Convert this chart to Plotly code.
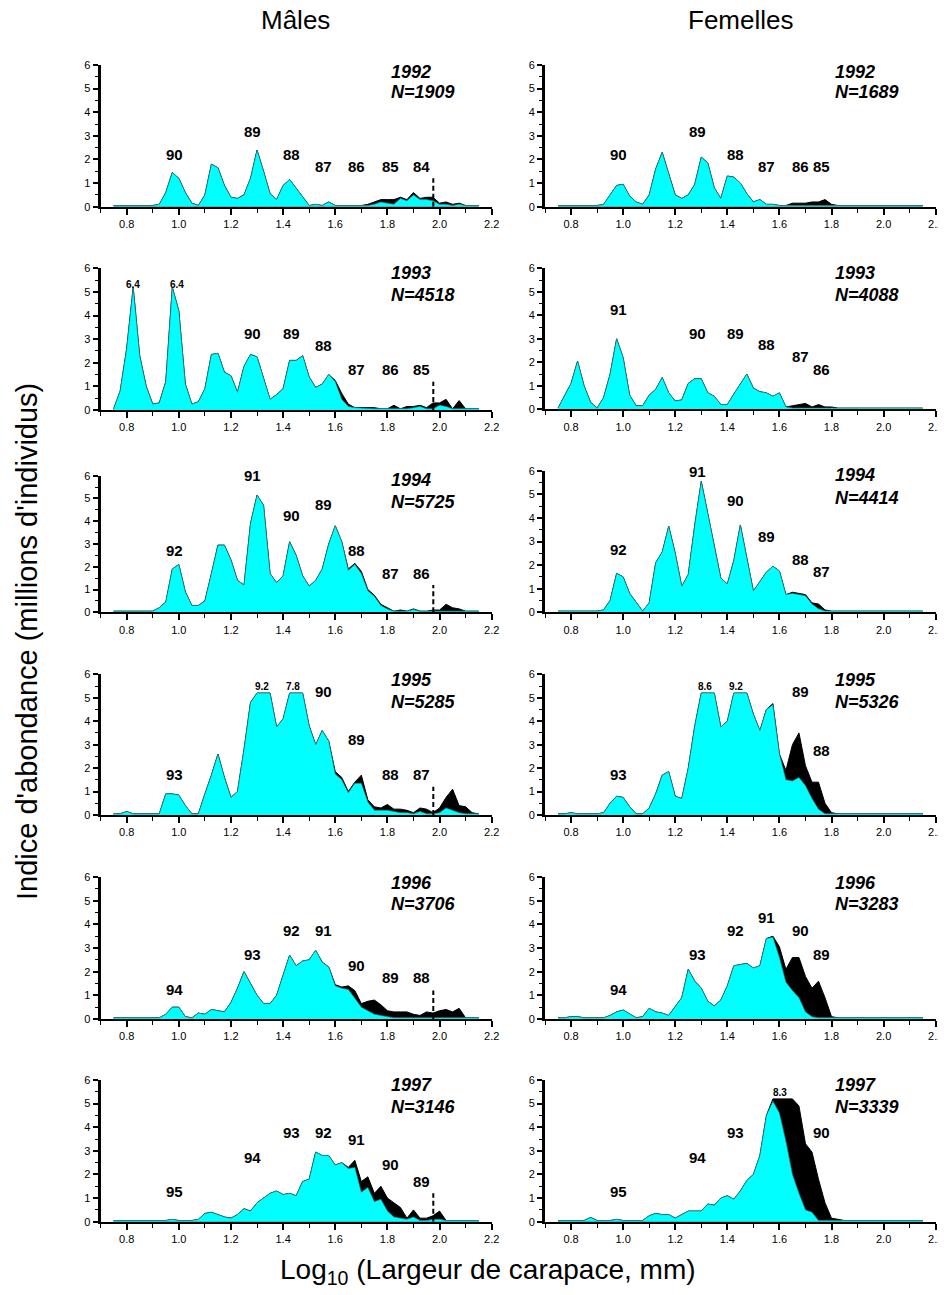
import plotly.graph_objects as go

# ---------------- data ----------------
LOG_CW = [0.750, 0.775, 0.800, 0.825, 0.850, 0.875, 0.900, 0.925, 0.950, 0.975,
          1.000, 1.025, 1.050, 1.075, 1.100, 1.125, 1.150, 1.175, 1.200, 1.225,
          1.250, 1.275, 1.300, 1.325, 1.350, 1.375, 1.400, 1.425, 1.450, 1.475,
          1.500, 1.525, 1.550, 1.575, 1.600, 1.625, 1.650, 1.675, 1.700, 1.725,
          1.750, 1.775, 1.800, 1.825, 1.850, 1.875, 1.900, 1.925, 1.950, 1.975,
          2.000, 2.025, 2.050, 2.075, 2.100, 2.125, 2.150]

M1992_TOTAL = [0.05,0.05,0.05,0.05,0.05,0.05,0.05,0.1,0.6,1.45,
               1.2,0.6,0.15,0.05,0.5,1.8,1.65,0.9,0.4,0.35,
               0.5,1.2,2.4,1.5,0.55,0.3,0.9,1.15,0.8,0.4,
               0.05,0.1,0.05,0.2,0.05,0.05,0.05,0.05,0.05,0.1,
               0.2,0.3,0.3,0.3,0.4,0.3,0.6,0.35,0.4,0.4,
               0.15,0.2,0.1,0.15,0.05,0.05,0.05]
M1992_IMM = [0.05,0.05,0.05,0.05,0.05,0.05,0.05,0.1,0.6,1.45,
             1.2,0.6,0.15,0.05,0.5,1.8,1.65,0.9,0.4,0.35,
             0.5,1.2,2.4,1.5,0.55,0.3,0.9,1.15,0.8,0.4,
             0.05,0.1,0.05,0.2,0.05,0.05,0.05,0.05,0.05,0.05,
             0.1,0.2,0.15,0.1,0.35,0.25,0.5,0.3,0.3,0.25,
             0.1,0.1,0.05,0.1,0.05,0.05,0.05]

F1992_TOTAL = [0.05,0.05,0.05,0.05,0.05,0.05,0.05,0.1,0.5,0.9,
               0.95,0.45,0.2,0.1,0.5,1.6,2.3,1.4,0.5,0.35,
               0.5,0.95,2.1,1.85,0.8,0.35,1.3,1.25,1.0,0.55,
               0.2,0.3,0.1,0.1,0.05,0.05,0.15,0.15,0.15,0.2,
               0.2,0.3,0.1,0.05,0.05,0.05,0.05,0.05,0.05,0.05,
               0.05,0.05,0.05,0.05,0.05,0.05,0.05]
F1992_IMM = [0.05,0.05,0.05,0.05,0.05,0.05,0.05,0.1,0.5,0.9,
             0.95,0.45,0.2,0.1,0.5,1.6,2.3,1.4,0.5,0.35,
             0.5,0.95,2.1,1.85,0.8,0.35,1.3,1.25,1.0,0.55,
             0.2,0.3,0.1,0.1,0.05,0.05,0.05,0.05,0.05,0.05,
             0.05,0.05,0.05,0.05,0.05,0.05,0.05,0.05,0.05,0.05,
             0.05,0.05,0.05,0.05,0.05,0.05,0.05]

M1993_TOTAL = [0.05,0.8,2.6,5.2,2.3,1.0,0.25,0.3,1.2,5.2,
               4.2,1.1,0.25,0.35,0.9,2.35,2.4,1.6,1.45,0.75,
               1.85,2.35,2.25,1.4,0.45,0.65,0.9,2.1,2.1,2.3,
               1.4,0.95,1.1,1.5,1.25,0.7,0.25,0.1,0.1,0.1,
               0.1,0.05,0.05,0.2,0.05,0.15,0.15,0.2,0.1,0.3,
               0.3,0.45,0.05,0.4,0.05,0.05,0.05]
M1993_IMM = [0.05,0.8,2.6,5.2,2.3,1.0,0.25,0.3,1.2,5.2,
             4.2,1.1,0.25,0.35,0.9,2.35,2.4,1.6,1.45,0.75,
             1.85,2.35,2.25,1.4,0.45,0.65,0.9,2.1,2.1,2.3,
             1.4,0.95,1.1,1.5,1.2,0.45,0.15,0.1,0.08,0.05,
             0.05,0.05,0.05,0.05,0.05,0.05,0.1,0.15,0.05,0.05,
             0.2,0.15,0.05,0.05,0.05,0.05,0.05]

F1993_TOTAL = [0.05,0.6,1.1,2.05,1.0,0.3,0.05,0.5,1.5,3.0,
               2.2,0.6,0.15,0.15,0.6,0.85,1.35,0.7,0.35,0.4,
               1.1,1.3,1.3,0.7,0.55,0.2,0.2,0.65,1.1,1.5,
               0.9,0.75,0.7,0.55,0.7,0.1,0.15,0.2,0.25,0.1,
               0.2,0.1,0.1,0.05,0.05,0.05,0.05,0.05,0.05,0.05,
               0.05,0.05,0.05,0.05,0.05,0.05,0.05]
F1993_IMM = [0.05,0.6,1.1,2.05,1.0,0.3,0.05,0.5,1.5,3.0,
             2.2,0.6,0.15,0.15,0.6,0.85,1.35,0.7,0.35,0.4,
             1.1,1.3,1.3,0.7,0.55,0.2,0.2,0.65,1.1,1.5,
             0.9,0.75,0.7,0.55,0.7,0.1,0.05,0.05,0.05,0.05,
             0.05,0.05,0.05,0.05,0.05,0.05,0.05,0.05,0.05,0.05,
             0.05,0.05,0.05,0.05,0.05,0.05,0.05]

M1994_TOTAL = [0.05,0.05,0.05,0.05,0.05,0.05,0.05,0.2,0.45,1.9,
               2.1,0.9,0.3,0.3,0.5,1.7,2.95,2.95,2.3,1.4,
               1.2,3.9,5.15,4.7,1.7,1.3,1.6,3.1,2.5,1.6,
               1.15,1.4,1.9,3.0,3.8,3.1,1.9,2.15,1.8,1.0,
               0.75,0.35,0.2,0.05,0.1,0.05,0.15,0.05,0.05,0.1,
               0.1,0.35,0.2,0.15,0.05,0.05,0.05]
M1994_IMM = [0.05,0.05,0.05,0.05,0.05,0.05,0.05,0.2,0.45,1.9,
             2.1,0.9,0.3,0.3,0.5,1.7,2.95,2.95,2.3,1.4,
             1.2,3.9,5.15,4.7,1.7,1.3,1.6,3.1,2.5,1.6,
             1.15,1.4,1.9,3.0,3.8,3.1,1.85,2.1,1.7,0.95,
             0.7,0.3,0.15,0.05,0.05,0.05,0.12,0.05,0.05,0.05,
             0.05,0.05,0.05,0.05,0.05,0.05,0.05]

F1994_TOTAL = [0.05,0.05,0.05,0.05,0.05,0.05,0.05,0.1,0.5,1.65,
               1.5,0.8,0.4,0.05,0.4,2.1,2.55,3.65,2.5,1.1,
               1.6,3.7,5.55,4.2,2.7,1.45,1.2,2.2,3.7,2.3,
               0.9,1.3,1.7,1.95,1.75,0.75,0.85,0.8,0.75,0.4,
               0.35,0.1,0.05,0.05,0.05,0.05,0.05,0.05,0.05,0.05,
               0.05,0.05,0.05,0.05,0.05,0.05,0.05]
F1994_IMM = [0.05,0.05,0.05,0.05,0.05,0.05,0.05,0.1,0.5,1.65,
             1.5,0.8,0.4,0.05,0.4,2.1,2.55,3.65,2.5,1.1,
             1.6,3.7,5.55,4.2,2.7,1.45,1.2,2.2,3.7,2.3,
             0.9,1.3,1.7,1.95,1.75,0.75,0.8,0.75,0.7,0.35,
             0.15,0.05,0.05,0.05,0.05,0.05,0.05,0.05,0.05,0.05,
             0.05,0.05,0.05,0.05,0.05,0.05,0.05]

M1995_TOTAL = [0.05,0.05,0.15,0.05,0.05,0.05,0.05,0.05,0.9,0.9,
               0.85,0.4,0.05,0.05,0.9,1.7,2.6,1.6,0.75,1.0,
               2.8,4.8,5.2,5.2,5.2,3.75,4.1,5.2,5.2,5.2,
               3.8,3.0,3.6,3.15,1.85,1.6,1.0,1.4,1.7,0.65,
               0.35,0.3,0.45,0.25,0.25,0.2,0.1,0.3,0.25,0.1,
               0.3,0.75,1.1,0.4,0.35,0.1,0.05]
M1995_IMM = [0.05,0.05,0.15,0.05,0.05,0.05,0.05,0.05,0.9,0.9,
             0.85,0.4,0.05,0.05,0.9,1.7,2.6,1.6,0.75,1.0,
             2.8,4.8,5.2,5.2,5.2,3.75,4.1,5.2,5.2,5.2,
             3.8,3.0,3.6,3.15,1.75,1.5,0.95,1.35,1.35,0.55,
             0.2,0.2,0.2,0.15,0.1,0.1,0.05,0.15,0.05,0.05,
             0.1,0.3,0.2,0.1,0.05,0.05,0.05]

F1995_TOTAL = [0.05,0.05,0.1,0.05,0.05,0.05,0.05,0.1,0.5,0.8,
               0.75,0.35,0.05,0.05,0.3,0.9,1.7,1.85,0.8,0.7,
               2.0,3.8,5.2,5.2,5.2,3.75,4.0,5.2,5.2,5.2,
               4.3,3.6,4.5,4.75,2.6,1.9,3.0,3.5,2.1,1.4,
               1.4,0.5,0.1,0.05,0.05,0.05,0.05,0.05,0.05,0.05,
               0.05,0.05,0.05,0.05,0.05,0.05,0.05]
F1995_IMM = [0.05,0.05,0.1,0.05,0.05,0.05,0.05,0.1,0.5,0.8,
             0.75,0.35,0.05,0.05,0.3,0.9,1.7,1.85,0.8,0.7,
             2.0,3.8,5.2,5.2,5.2,3.75,4.0,5.2,5.2,5.2,
             4.3,3.6,4.5,4.7,2.6,1.5,1.45,1.6,1.25,0.7,
             0.25,0.05,0.05,0.05,0.05,0.05,0.05,0.05,0.05,0.05,
             0.05,0.05,0.05,0.05,0.05,0.05,0.05]

M1996_TOTAL = [0.05,0.05,0.05,0.05,0.05,0.05,0.05,0.05,0.2,0.5,
               0.5,0.1,0.05,0.25,0.2,0.4,0.35,0.3,0.7,1.3,
               2.0,1.5,1.0,0.65,0.65,1.0,1.9,2.7,2.25,2.45,
               2.5,2.9,2.4,2.2,1.45,1.35,1.4,1.2,0.65,0.75,
               0.8,0.6,0.35,0.3,0.3,0.3,0.2,0.15,0.3,0.25,
               0.35,0.4,0.3,0.45,0.05,0.05,0.05]
M1996_IMM = [0.05,0.05,0.05,0.05,0.05,0.05,0.05,0.05,0.2,0.5,
             0.5,0.1,0.05,0.25,0.2,0.4,0.35,0.3,0.7,1.3,
             2.0,1.5,1.0,0.65,0.65,1.0,1.9,2.7,2.25,2.45,
             2.5,2.9,2.4,2.2,1.4,1.3,1.25,0.9,0.5,0.35,
             0.2,0.15,0.1,0.05,0.05,0.05,0.05,0.05,0.05,0.05,
             0.05,0.05,0.05,0.05,0.05,0.05,0.05]

F1996_TOTAL = [0.05,0.05,0.1,0.1,0.05,0.05,0.05,0.05,0.15,0.3,
               0.38,0.2,0.05,0.1,0.45,0.3,0.25,0.15,0.5,0.9,
               2.1,1.6,1.3,0.75,0.55,0.8,1.4,2.25,2.3,2.35,
               2.15,2.25,3.4,3.5,3.05,2.1,2.6,2.6,1.8,1.3,
               1.6,0.9,0.1,0.05,0.05,0.05,0.05,0.05,0.05,0.05,
               0.05,0.05,0.05,0.05,0.05,0.05,0.05]
F1996_IMM = [0.05,0.05,0.1,0.1,0.05,0.05,0.05,0.05,0.15,0.3,
             0.38,0.2,0.05,0.1,0.45,0.3,0.25,0.15,0.5,0.9,
             2.1,1.6,1.3,0.75,0.55,0.8,1.4,2.25,2.3,2.35,
             2.15,2.25,3.4,3.45,2.6,1.55,1.2,0.9,0.3,0.1,
             0.05,0.05,0.05,0.05,0.05,0.05,0.05,0.05,0.05,0.05,
             0.05,0.05,0.05,0.05,0.05,0.05,0.05]

M1997_TOTAL = [0.05,0.05,0.05,0.08,0.05,0.05,0.05,0.05,0.05,0.1,
               0.05,0.05,0.05,0.1,0.35,0.4,0.3,0.2,0.15,0.3,
               0.55,0.45,0.8,1.0,1.2,1.3,1.15,1.2,1.1,1.7,
               1.8,2.95,2.8,2.8,2.4,2.5,2.3,2.6,1.7,1.9,
               1.2,1.5,1.0,0.8,0.6,0.15,0.5,0.15,0.15,0.25,
               0.45,0.05,0.05,0.05,0.08,0.05,0.05]
M1997_IMM = [0.05,0.05,0.05,0.08,0.05,0.05,0.05,0.05,0.05,0.1,
             0.05,0.05,0.05,0.1,0.35,0.4,0.3,0.2,0.15,0.3,
             0.55,0.45,0.8,1.0,1.2,1.3,1.15,1.2,1.1,1.7,
             1.8,2.95,2.8,2.8,2.4,2.5,2.25,2.3,1.25,1.45,
             0.85,0.95,0.45,0.2,0.15,0.1,0.2,0.05,0.05,0.1,
             0.1,0.05,0.05,0.05,0.08,0.05,0.05]

F1997_TOTAL = [0.05,0.05,0.05,0.05,0.05,0.18,0.05,0.05,0.05,0.1,
               0.05,0.05,0.05,0.05,0.25,0.35,0.3,0.3,0.15,0.3,
               0.45,0.45,0.45,0.75,0.7,1.0,1.1,0.95,1.3,1.75,
               2.0,2.8,4.5,5.2,5.2,5.2,5.2,4.9,3.3,2.95,
               1.8,0.8,0.15,0.1,0.05,0.05,0.05,0.05,0.05,0.05,
               0.05,0.05,0.05,0.05,0.05,0.05,0.05]
F1997_IMM = [0.05,0.05,0.05,0.05,0.05,0.18,0.05,0.05,0.05,0.1,
             0.05,0.05,0.05,0.05,0.25,0.35,0.3,0.3,0.15,0.3,
             0.45,0.45,0.45,0.75,0.7,1.0,1.1,0.95,1.3,1.75,
             2.0,2.8,4.5,5.1,4.6,3.4,2.0,1.2,0.5,0.4,
             0.05,0.05,0.05,0.05,0.05,0.05,0.05,0.05,0.05,0.05,
             0.05,0.05,0.05,0.05,0.05,0.05,0.05]

YEARS = [1992, 1993, 1994, 1995, 1996, 1997]
N_MALES = [1909, 4518, 5725, 5285, 3706, 3146]
N_FEMALES = [1689, 4088, 4414, 5326, 3283, 3339]

MALES_TOTAL = [M1992_TOTAL, M1993_TOTAL, M1994_TOTAL, M1995_TOTAL, M1996_TOTAL, M1997_TOTAL]
MALES_IMM = [M1992_IMM, M1993_IMM, M1994_IMM, M1995_IMM, M1996_IMM, M1997_IMM]
FEMALES_TOTAL = [F1992_TOTAL, F1993_TOTAL, F1994_TOTAL, F1995_TOTAL, F1996_TOTAL, F1997_TOTAL]
FEMALES_IMM = [F1992_IMM, F1993_IMM, F1994_IMM, F1995_IMM, F1996_IMM, F1997_IMM]

# cohort labels (text, x, y) per panel
M_COHORTS = [
    [("90", 0.982, 2.22), ("89", 1.283, 3.2), ("88", 1.432, 2.22), ("87", 1.554, 1.72),
     ("86", 1.682, 1.72), ("85", 1.81, 1.72), ("84", 1.932, 1.72)],
    [("91", 0.982, 6.14), ("90", 1.283, 3.25), ("89", 1.432, 3.25), ("88", 1.554, 2.75),
     ("87", 1.682, 1.72), ("86", 1.81, 1.72), ("85", 1.932, 1.72)],
    [("92", 0.982, 2.71), ("91", 1.283, 5.99), ("90", 1.432, 4.25), ("89", 1.554, 4.74),
     ("88", 1.682, 2.71), ("87", 1.81, 1.71), ("86", 1.932, 1.71)],
    [("93", 0.982, 1.71), ("92", 1.283, 6.12), ("91", 1.432, 6.12), ("90", 1.554, 5.26),
     ("89", 1.682, 3.24), ("88", 1.81, 1.71), ("87", 1.932, 1.71)],
    [("94", 0.982, 1.25), ("93", 1.283, 2.73), ("92", 1.432, 3.72), ("91", 1.554, 3.72),
     ("90", 1.682, 2.25), ("89", 1.81, 1.75), ("88", 1.932, 1.75)],
    [("95", 0.982, 1.27), ("94", 1.283, 2.73), ("93", 1.432, 3.77), ("92", 1.554, 3.77),
     ("91", 1.682, 3.46), ("90", 1.81, 2.43), ("89", 1.932, 1.72)],
]
F_COHORTS = [
    [("90", 0.984, 2.22), ("89", 1.285, 3.2), ("88", 1.433, 2.22), ("87", 1.551, 1.72),
     ("86", 1.681, 1.72), ("85", 1.762, 1.72)],
    [("91", 0.984, 4.23), ("90", 1.285, 3.23), ("89", 1.433, 3.23), ("88", 1.551, 2.74),
     ("87", 1.681, 2.24), ("86", 1.762, 1.7)],
    [("92", 0.984, 2.67), ("91", 1.285, 5.96), ("90", 1.433, 4.72), ("89", 1.551, 3.23),
     ("88", 1.681, 2.25), ("87", 1.762, 1.72)],
    [("93", 0.984, 1.71), ("92", 1.285, 6.12), ("91", 1.433, 6.12), ("90", 1.551, 6.12),
     ("89", 1.681, 5.26), ("88", 1.762, 2.75)],
    [("94", 0.984, 1.25), ("93", 1.285, 2.73), ("92", 1.433, 3.72), ("91", 1.551, 4.28),
     ("90", 1.681, 3.72), ("89", 1.762, 2.73)],
    [("95", 0.984, 1.27), ("94", 1.285, 2.73), ("93", 1.433, 3.77), ("92", 1.551, 6.12),
     ("91", 1.681, 6.12), ("90", 1.762, 3.77)],
]
# off-scale peak values (text, x, y)
M_PEAKS = [[], [("6.4", 0.823, 5.3), ("6.4", 0.992, 5.3)], [],
           [("9.2", 1.318, 5.48), ("7.8", 1.439, 5.48)], [], []]
F_PEAKS = [[], [], [], [("8.6", 1.314, 5.48), ("9.2", 1.433, 5.48)], [],
           [("8.3", 1.602, 5.47)]]
YEAR_Y = [(5.72, 4.87), (5.79, 4.87), (5.81, 4.86), (5.76, 4.84), (5.73, 4.85), (5.79, 4.84)]
DASH_X = 1.976

for arr in MALES_TOTAL + MALES_IMM + FEMALES_TOTAL + FEMALES_IMM:
    assert len(arr) == len(LOG_CW)

# ---------------- layout geometry (pixels, page coordinates) ----------------
W, H = 946, 1295
OFF = 8  # page body margin: figure origin sits at (8, 8) on the page
COL_X = {"M": (100.6, 491.7), "F": (545.0, 935.7)}
ROW_Y = {"M": [(65, 206.7), (268.3, 410), (475.7, 612.3), (674.3, 815), (877, 1019), (1080, 1221.7)],
         "F": [(65, 206.7), (268.3, 409.3), (470.7, 612.3), (674.3, 815), (877, 1019), (1080, 1221.7)]}


def px_x(p):
    return (p - OFF) / W


def px_y(p):
    return 1 - (p - OFF) / H


FONT = "Arial, Liberation Sans, sans-serif"
CYAN = "#00FFFF"

fig = go.Figure()
layout = dict(width=W, height=H, margin=dict(l=0, r=0, t=0, b=0, autoexpand=False),
              plot_bgcolor="white", paper_bgcolor="white", showlegend=False,
              font=dict(family=FONT, color="black"))
annotations = []
shapes = []

idx = 0
for sex, totals, imms, ns, cohorts, peaks in [
        ("M", MALES_TOTAL, MALES_IMM, N_MALES, M_COHORTS, M_PEAKS),
        ("F", FEMALES_TOTAL, FEMALES_IMM, N_FEMALES, F_COHORTS, F_PEAKS)]:
    for r in range(6):
        idx += 1
        xa = "x" if idx == 1 else f"x{idx}"
        ya = "y" if idx == 1 else f"y{idx}"
        xkey = "xaxis" if idx == 1 else f"xaxis{idx}"
        ykey = "yaxis" if idx == 1 else f"yaxis{idx}"
        x0, x1 = COL_X[sex]
        top, bot = ROW_Y[sex][r]
        layout[xkey] = dict(domain=[px_x(x0), px_x(x1)], anchor=ya, range=[0.7, 2.2],
                            automargin=False,
                            tick0=0.8, dtick=0.2, tickformat=".1f", ticks="outside",
                            ticklen=6, tickwidth=1.5, tickcolor="black",
                            minor=dict(dtick=0.1, tick0=0.7, ticks="outside", ticklen=4,
                                       tickwidth=1, tickcolor="black"),
                            showline=True, linecolor="black", linewidth=2,
                            showgrid=False, zeroline=False,
                            tickfont=dict(size=11, family=FONT, color="black"))
        layout[ykey] = dict(domain=[px_y(bot), px_y(top)], anchor=xa, range=[0, 6],
                            automargin=False,
                            tick0=0, dtick=1, ticks="outside", ticklen=5, tickwidth=1.5,
                            tickcolor="black",
                            minor=dict(dtick=0.5, ticks="outside", ticklen=3, tickwidth=1,
                                       tickcolor="black"),
                            showline=True, linecolor="black", linewidth=3,
                            showgrid=False, zeroline=False,
                            tickfont=dict(size=11, family=FONT, color="black"))
        fig.add_trace(go.Scatter(x=LOG_CW, y=totals[r], xaxis=xa, yaxis=ya, mode="lines",
                                 fill="tozeroy", fillcolor="black",
                                 line=dict(color="black", width=1)))
        fig.add_trace(go.Scatter(x=LOG_CW, y=imms[r], xaxis=xa, yaxis=ya, mode="lines",
                                 fill="tozeroy", fillcolor=CYAN,
                                 line=dict(color="#1a8a8a", width=0.7)))
        for txt, cx, cy in cohorts[r]:
            annotations.append(dict(x=cx, y=cy, xref=xa, yref=ya, text=f"<b>{txt}</b>",
                                    showarrow=False, xanchor="center", yanchor="middle",
                                    font=dict(size=15, family=FONT, color="black")))
        for txt, cx, cy in peaks[r]:
            annotations.append(dict(x=cx, y=cy, xref=xa, yref=ya, text=f"<b>{txt}</b>",
                                    showarrow=False, xanchor="center", yanchor="middle",
                                    font=dict(size=10, family=FONT, color="black")))
        yy, ny = YEAR_Y[r]
        annotations.append(dict(x=1.806, y=yy, xref=xa, yref=ya,
                                text=f"<b><i>{YEARS[r]}</i></b>", showarrow=False,
                                xanchor="left", yanchor="middle",
                                font=dict(size=18, family=FONT, color="black")))
        annotations.append(dict(x=1.806, y=ny, xref=xa, yref=ya,
                                text=f"<b><i>N={ns[r]}</i></b>", showarrow=False,
                                xanchor="left", yanchor="middle",
                                font=dict(size=18, family=FONT, color="black")))
        if sex == "M":
            shapes.append(dict(type="line", xref=xa, yref=ya, x0=DASH_X, x1=DASH_X,
                               y0=0, y1=1.2,
                               line=dict(color="black", width=2, dash="5px,3px")))

annotations += [
    dict(x=px_x(295), y=px_y(20), xref="paper", yref="paper", text="Mâles",
         xanchor="center", yanchor="middle",
         showarrow=False, font=dict(size=26, family=FONT, color="black")),
    dict(x=px_x(740), y=px_y(20), xref="paper", yref="paper", text="Femelles",
         xanchor="center", yanchor="middle",
         showarrow=False, font=dict(size=26, family=FONT, color="black")),
    dict(x=px_x(27), y=px_y(642), xref="paper", yref="paper",
         text="Indice d'abondance (millions d'individus)", textangle=-90,
         xanchor="center", yanchor="middle",
         showarrow=False, font=dict(size=29, family=FONT, color="black")),
    dict(x=px_x(488), y=px_y(1271), xref="paper", yref="paper",
         text="Log<sub>10</sub> (Largeur de carapace, mm)",
         xanchor="center", yanchor="middle",
         showarrow=False, font=dict(size=28, family=FONT, color="black")),
]
layout["annotations"] = annotations
layout["shapes"] = shapes
fig.update_layout(**layout)
fig.write_html("out.html")
